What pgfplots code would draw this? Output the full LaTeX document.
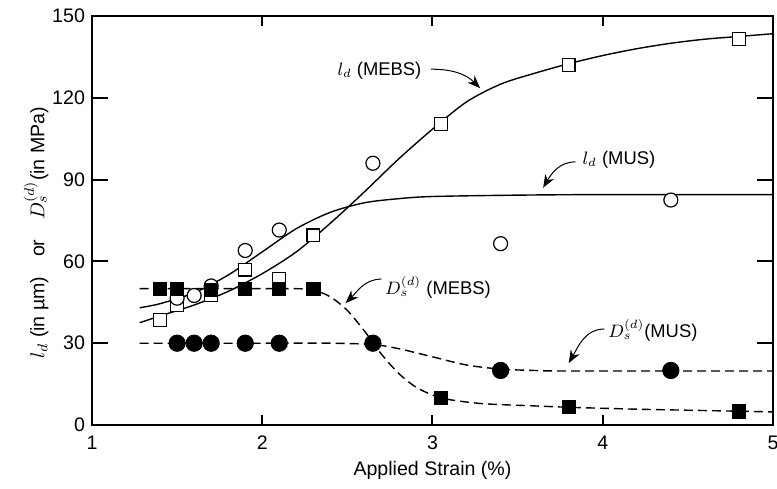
\documentclass[border=0pt]{standalone}
\usepackage{fontspec}
\setmainfont{Liberation Sans}
\usepackage{pgfplots}
\pgfplotsset{compat=1.18}
\usetikzlibrary{arrows.meta,calc}

\tikzset{
  fit/.style={black, line width=0.7pt, smooth},
  dfit/.style={black, line width=0.7pt, smooth, dash pattern=on 4.5pt off 2.5pt},
  annot/.style={-{Stealth[length=6.5pt,width=5pt]}, line width=0.5pt},
  lab/.style={anchor=west, inner sep=0pt, font=\fontsize{9.2}{11}\selectfont}
}

\begin{document}
\begin{tikzpicture}
\begin{axis}[
  scale only axis, width=340.5pt, height=204.5pt,
  xmin=1, xmax=5, ymin=0, ymax=150,
  xtick={1,2,3,4,5}, ytick={0,30,60,90,120,150},
  tick align=inside,
  major tick length=8pt,
  xtick style={draw=none},
  axis line style={line width=1pt},
  ytick style={black, line width=1pt},
  /pgf/number format/assume math mode=true,
  tick label style={font=\fontsize{9.8}{11}\selectfont},
  x tick label style={yshift=-2pt},
  xlabel={Applied Strain (\%)},
  ylabel={$l_d$ (in µm)\quad or\quad $D_s^{(d)}$(in MPa)},
  label style={font=\fontsize{9.8}{11}\selectfont},
  xlabel style={at={(rel axis cs:0.5,0)}, anchor=center, yshift=-22.5pt},
  ylabel style={at={(rel axis cs:0,0.47)}, anchor=center, yshift=28pt},
  clip=false
]
\coordinate (bl) at (rel axis cs:0,0);
\coordinate (tr) at (rel axis cs:1,1);
\pgfplotsinvokeforeach{2,3,4}{
  \draw[line width=1pt] (axis cs:#1,0) -- ++(0pt,5pt);
  \draw[line width=1pt] (axis cs:#1,150) -- ++(0pt,-5pt);
}

% fitted curves
\addplot[fit] coordinates {
  (1.28,37.5)(1.4,40)(1.6,44)(1.8,49)(2.0,55.5)(2.2,63.5)(2.4,74)(2.6,85.5)
  (2.8,97.5)(3.0,108.5)(3.2,118.5)(3.4,125)(3.6,129)(3.8,132.5)(4.0,135.5)
  (4.2,138)(4.4,140)(4.6,141.5)(4.8,142.5)(5.0,143.5)
};
\addplot[fit] coordinates {
  (1.28,43)(1.4,44.5)(1.6,48.5)(1.8,55)(2.0,63.5)(2.2,72)(2.4,78)(2.6,81.5)
  (2.8,83)(3.0,83.8)(3.5,84.3)(4.0,84.5)(5.0,84.5)
};
\addplot[dfit] coordinates {
  (1.28,50)(2.0,50)(2.2,50)(2.3,49.5)(2.4,47)(2.5,42)(2.6,34.5)(2.7,26)
  (2.8,19)(2.9,14)(3.0,11)(3.1,9.3)(3.3,7.8)(3.6,7)(3.8,6.5)(4.2,5.8)
  (4.6,5.3)(5.0,4.8)
};
\addplot[dfit] coordinates {
  (1.28,30)(2.0,30)(2.4,30)(2.65,29.5)(2.8,28)(3.0,25)(3.2,22)(3.4,20.5)
  (3.6,20)(3.8,19.8)(5.0,19.8)
};

% l_d (MEBS), open squares
\addplot[only marks, mark=square*, mark size=3.2pt,
  mark options={fill=white, draw=black, line width=0.6pt}] coordinates {
  (1.4,38.5)(1.5,44)(1.7,47.5)(1.9,57)(2.1,53.5)(2.3,69.5)(3.05,110.5)(3.8,132)(4.8,141.5)
};
% l_d (MUS), open circles
\addplot[only marks, mark=*, mark size=3.5pt,
  mark options={fill=white, draw=black, line width=0.6pt}] coordinates {
  (1.5,46.5)(1.6,47.5)(1.7,51)(1.9,64)(2.1,71.5)(2.65,96)(3.4,66.5)(4.4,82.5)
};
% D_s (MEBS), filled squares
\addplot[only marks, mark=square*, mark size=3.3pt,
  mark options={fill=black, draw=black}] coordinates {
  (1.4,50)(1.5,50)(1.7,49.5)(1.9,50)(2.1,50)(2.3,50)(3.05,10)(3.8,6.5)(4.8,5)
};
% D_s (MUS), filled circles
\addplot[only marks, mark=*, mark size=4.1pt,
  mark options={fill=black, draw=black}] coordinates {
  (1.5,30)(1.6,30)(1.7,30)(1.9,30)(2.1,30)(2.65,30)(3.4,20)(4.4,20)
};

% annotations
\node[lab] at (axis cs:2.44,130) {$l_d$ (MEBS)};
\draw[annot] (axis cs:2.99,130.5) to[out=0,in=135] (axis cs:3.28,123.5);
\node[lab] at (axis cs:3.88,97.2) {$l_d$ (MUS)};
\draw[annot] (axis cs:3.84,96.5) to[out=180,in=60] (axis cs:3.65,87);
\node[lab] at (axis cs:2.72,50.6) {$D_s^{(d)}$ (MEBS)};
\draw[annot] (axis cs:2.70,53.5) to[out=180,in=45] (axis cs:2.49,44.7);
\node[lab] at (axis cs:4.03,34.8) {$D_s^{(d)}$(MUS)};
\draw[annot] (axis cs:4.01,35.2) to[out=180,in=60] (axis cs:3.80,22.7);
\end{axis}
\pgfresetboundingbox
\path ($(bl)+(-46pt,-31.5pt)$) rectangle ($(tr)+(2pt,8pt)$);
\end{tikzpicture}
\end{document}
